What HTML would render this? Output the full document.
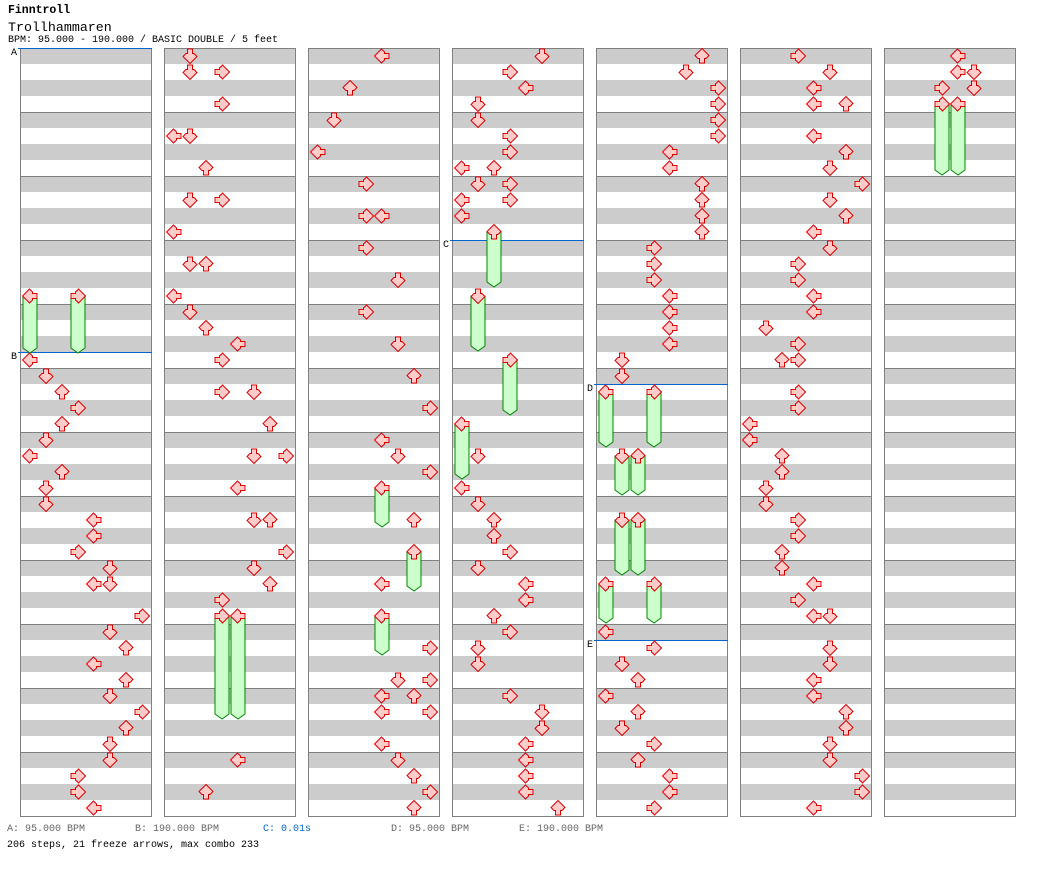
<!DOCTYPE html>
<html><head><meta charset="utf-8">
<style>
html,body{margin:0;padding:0;background:#fff;width:1040px;height:876px;overflow:hidden}
.t{position:absolute;font-family:"Liberation Mono",monospace;white-space:pre;line-height:1}
</style></head><body>
<div class="t" style="left:8px;top:5px;font-size:11.5px;font-weight:bold">Finntroll</div>
<div class="t" style="left:8px;top:21px;font-size:13.3px">Trollhammaren</div>
<div class="t" style="left:8px;top:36px;font-size:10px">BPM: 95.000 - 190.000 / BASIC DOUBLE / 5 feet</div>
<div class="t" style="left:7px;top:825px;font-size:10px;color:#666">A: 95.000 BPM</div>
<div class="t" style="left:135px;top:825px;font-size:10px;color:#666">B: 190.000 BPM</div>
<div class="t" style="left:263px;top:825px;font-size:10px;color:#0066cc">C: 0.01s</div>
<div class="t" style="left:391px;top:825px;font-size:10px;color:#666">D: 95.000 BPM</div>
<div class="t" style="left:519px;top:825px;font-size:10px;color:#666">E: 190.000 BPM</div>
<div class="t" style="left:7px;top:841px;font-size:10px">206 steps, 21 freeze arrows, max combo 233</div>
<svg id="s" width="1040" height="876" style="position:absolute;left:0;top:0" xmlns="http://www.w3.org/2000/svg"></svg>
<div class="t" style="left:11px;top:49px;font-size:10px">A</div>
<div class="t" style="left:11px;top:353px;font-size:10px">B</div>
<div class="t" style="left:443px;top:241px;font-size:10px">C</div>
<div class="t" style="left:587px;top:385px;font-size:10px">D</div>
<div class="t" style="left:587px;top:641px;font-size:10px">E</div>
<script>
var cols=[
[[296,0,3],[360,0],[376,1],[392,2],[408,3],[424,2],[440,1],[456,0],[472,2],[488,1],[504,1],[520,4],[536,4],[552,3],[568,5],[584,4,5],[616,7],[632,5],[648,6],[664,4],[680,6],[696,5],[712,7],[728,6],[744,5],[760,5],[776,3],[792,3],[808,4]],
[[56,1],[72,1,3],[104,3],[136,0,1],[168,2],[200,1,3],[232,0],[264,1,2],[296,0],[312,1],[328,2],[344,4],[360,3],[392,3,5],[424,6],[456,5,7],[488,4],[520,5,6],[552,7],[568,5],[584,6],[600,3],[616,3,4],[760,4],[792,2]],
[[56,4],[88,2],[120,1],[152,0],[184,3],[216,3,4],[248,3],[280,5],[312,3],[344,5],[376,6],[408,7],[440,4],[456,5],[472,7],[488,4],[520,6],[552,6],[584,4],[616,4],[648,7],[680,5,7],[696,4,6],[712,4,7],[744,4],[760,5],[776,6],[792,7],[808,6]],
[[56,5],[72,3],[88,4],[104,1],[120,1],[136,3],[152,3],[168,0,2],[184,1,3],[200,0,3],[216,0],[232,2],[296,1],[360,3],[424,0],[456,1],[488,0],[504,1],[520,2],[536,2],[552,3],[568,1],[584,4],[600,4],[616,2],[632,3],[648,1],[664,1],[696,3],[712,5],[728,5],[744,4],[760,4],[776,4],[792,4],[808,6]],
[[56,6],[72,5],[88,7],[104,7],[120,7],[136,7],[152,4],[168,4],[184,6],[200,6],[216,6],[232,6],[248,3],[264,3],[280,3],[296,4],[312,4],[328,4],[344,4],[360,1],[376,1],[392,0,3],[456,1,2],[520,1,2],[584,0,3],[632,0],[648,3],[664,1],[680,2],[696,0],[712,2],[728,1],[744,3],[760,2],[776,4],[792,4],[808,3]],
[[56,3],[72,5],[88,4],[104,4,6],[136,4],[152,6],[168,5],[184,7],[200,5],[216,6],[232,4],[248,5],[264,3],[280,3],[296,4],[312,4],[328,1],[344,3],[360,2,3],[392,3],[408,3],[424,0],[440,0],[456,2],[472,2],[488,1],[504,1],[520,3],[536,3],[552,2],[568,2],[584,4],[600,3],[616,4,5],[648,5],[664,5],[680,4],[696,4],[712,6],[728,6],[744,5],[760,5],[776,7],[792,7],[808,4]],
[[56,4],[72,4,5],[88,3,5],[104,3,4]]];
var frz=[[0,296,0,352],[0,296,3,352],[1,616,3,718],[1,616,4,718],[2,488,4,526],[2,552,6,590],[2,616,4,654],[3,232,2,286],[3,296,1,350],[3,360,3,414],[3,424,0,478],[4,392,0,446],[4,392,3,446],[4,456,1,494],[4,456,2,494],[4,520,1,574],[4,520,2,574],[4,584,0,622],[4,584,3,622],[6,104,3,174],[6,104,4,174]];
var h='';
for(var c=0;c<7;c++){var x=20+144*c;
 for(var r=0;r<48;r++){if(r%2==0)h+='<rect x="'+x+'" y="'+(48+16*r)+'" width="132" height="16" fill="#cccccc"/>';}
 for(var m=1;m<12;m++)h+='<line x1="'+x+'" x2="'+(x+132)+'" y1="'+(48.5+64*m)+'" y2="'+(48.5+64*m)+'" stroke="#808080"/>';
 h+='<rect x="'+(x+.5)+'" y="48.5" width="131" height="768" fill="none" stroke="#808080"/>';}
var bl=[[0,48],[0,352],[3,240],[4,384],[4,640]];
bl.forEach(function(b){var x=20+144*b[0];h+='<line x1="'+(x-2)+'" x2="'+(x+132)+'" y1="'+(b[1]+.5)+'" y2="'+(b[1]+.5)+'" stroke="#0066cc"/>';});
frz.forEach(function(f){var cx=30+144*f[0]+16*f[2];var y0=f[1],y1=f[3];
 h+='<polygon points="'+(cx-7)+','+y0+' '+(cx+7)+','+y0+' '+(cx+7)+','+(y1-4)+' '+cx+','+(y1+1)+' '+(cx-7)+','+(y1-4)+'" fill="#ccffcc" stroke="#008800" stroke-width="1"/>';});
var rot=[90,0,180,-90];
cols.forEach(function(col,c){col.forEach(function(e){for(var i=1;i<e.length;i++){var l=e[i];var cx=30+144*c+16*l;
 h+='<polygon transform="translate('+cx+','+e[0]+') rotate('+rot[l%4]+')" points="-2.5,-7 2.5,-7 2.5,-2.5 4,-2.5 7,0.5 0,7.5 -7,0.5 -4,-2.5 -2.5,-2.5" fill="#ffcccc" stroke="#dd0000" stroke-width="1"/>';}});});
document.getElementById('s').innerHTML=h;
</script>
</body></html>
